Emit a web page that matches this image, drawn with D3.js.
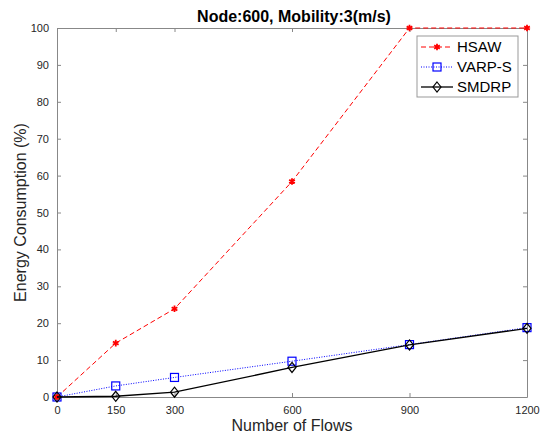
<!DOCTYPE html>
<html>
<head>
<meta charset="utf-8">
<script src="https://cdn.jsdelivr.net/npm/d3@7"></script>
<style>
  body { margin: 0; background: #fff; }
  text { font-family: "Liberation Sans", Arial, sans-serif; }
</style>
</head>
<body>
<svg id="chart" width="546" height="438"></svg>
<script>
// data
const flows = [0, 150, 300, 600, 900, 1200];
const hsaw = [0, 14.6, 23.9, 58.4, 100, 100];
const varps = [0, 3.0, 5.3, 9.7, 14.2, 18.8];
const smdrp = [0, 0.2, 1.3, 8.0, 14.1, 18.6];
const xTicks = [0, 150, 300, 600, 900, 1200];
const yTicks = [0, 10, 20, 30, 40, 50, 60, 70, 80, 90, 100];

const margin = {top: 28, left: 57, right: 19, bottom: 41};
const width = 546, height = 438;

const svg = d3.select('#chart');

const x = d3.scaleLinear().domain([0, 1200]).range([margin.left, width - margin.right]);
const y = d3.scaleLinear().domain([0, 100]).range([height - margin.bottom, margin.top]);

const axisColor = '#888';
const labelColor = '#262626';

// axes box with inward ticks (matlab style)
function styleAxis(g) {
  g.select('.domain').attr('stroke', axisColor);
  g.selectAll('.tick line').attr('stroke', axisColor);
  g.selectAll('.tick text').attr('fill', labelColor).attr('font-size', 11)
    .attr('font-family', '"Liberation Sans", Arial, sans-serif');
}

svg.append('g').attr('transform', `translate(0,${y(0)})`)
  .call(d3.axisBottom(x).tickValues(xTicks).tickSize(-4).tickPadding(9).tickSizeOuter(0).tickFormat(d3.format('d')))
  .call(styleAxis);
svg.append('g').attr('transform', `translate(0,${y(100)})`)
  .call(d3.axisTop(x).tickValues(xTicks).tickSize(-4).tickFormat('').tickSizeOuter(0))
  .call(styleAxis);
svg.append('g').attr('transform', `translate(${x(0)},0)`)
  .call(d3.axisLeft(y).tickValues(yTicks).tickSize(-4).tickPadding(8).tickSizeOuter(0))
  .call(styleAxis);
svg.append('g').attr('transform', `translate(${x(1200)},0)`)
  .call(d3.axisRight(y).tickValues(yTicks).tickSize(-4).tickFormat('').tickSizeOuter(0))
  .call(styleAxis);

// titles
svg.append('text').attr('x', (x(0) + x(1200)) / 2 + 2).attr('y', 22)
  .attr('text-anchor', 'middle').attr('font-size', 16).attr('font-weight', 'bold')
  .attr('fill', '#000').text('Node:600, Mobility:3(m/s)');

svg.append('text').attr('x', (x(0) + x(1200)) / 2).attr('y', 431)
  .attr('text-anchor', 'middle').attr('font-size', 16).attr('fill', labelColor)
  .text('Number of Flows');

svg.append('text')
  .attr('transform', `translate(26,${(y(0) + y(100)) / 2}) rotate(-90)`)
  .attr('text-anchor', 'middle').attr('font-size', 16).attr('fill', labelColor)
  .text('Energy Consumption (%)');

const series = [
  {name: 'HSAW', values: hsaw, color: '#ff0000', dash: '5,3', width: 1, marker: 'star'},
  {name: 'VARP-S', values: varps, color: '#0000ff', dash: '1,1.5', width: 1, marker: 'square'},
  {name: 'SMDRP', values: smdrp, color: '#000000', dash: null, width: 1.3, marker: 'diamond'}
];

const line = d3.line();

function drawMarker(g, s, px, py) {
  if (s.marker === 'square') {
    g.append('rect').attr('x', px - 4).attr('y', py - 4).attr('width', 8).attr('height', 8)
      .attr('fill', 'none').attr('stroke', s.color).attr('stroke-width', 1.2);
  } else if (s.marker === 'diamond') {
    g.append('path').attr('d', `M${px},${py - 5}L${px + 4},${py}L${px},${py + 5}L${px - 4},${py}Z`)
      .attr('fill', 'none').attr('stroke', s.color).attr('stroke-width', 1.2);
  } else {
    g.append('path').attr('d', d3.symbol(d3.symbolAsterisk, 30)())
      .attr('transform', `translate(${px},${py})`)
      .attr('fill', 'none').attr('stroke', s.color).attr('stroke-width', 1.8);
  }
}

series.forEach(s => {
  const pts = flows.map((f, i) => [x(f), y(s.values[i])]);
  svg.append('path').attr('d', line(pts))
    .attr('fill', 'none').attr('stroke', s.color).attr('stroke-width', s.width)
    .attr('stroke-dasharray', s.dash);
  const g = svg.append('g');
  pts.forEach(p => drawMarker(g, s, p[0], p[1]));
});

// legend
const legend = svg.append('g').attr('transform', 'translate(417,36)');
legend.append('rect').attr('width', 101).attr('height', 61)
  .attr('fill', '#fff').attr('stroke', '#999').attr('stroke-width', 1);
series.forEach((s, i) => {
  const ly = 11 + i * 20;
  legend.append('line').attr('x1', 4).attr('x2', 36).attr('y1', ly).attr('y2', ly)
    .attr('stroke', s.color).attr('stroke-width', s.width).attr('stroke-dasharray', s.dash);
  drawMarker(legend, s, 20, ly);
  legend.append('text').attr('x', 40).attr('y', ly + 5).attr('font-size', 15)
    .attr('fill', '#000').text(s.name);
});
</script>
</body>
</html>
